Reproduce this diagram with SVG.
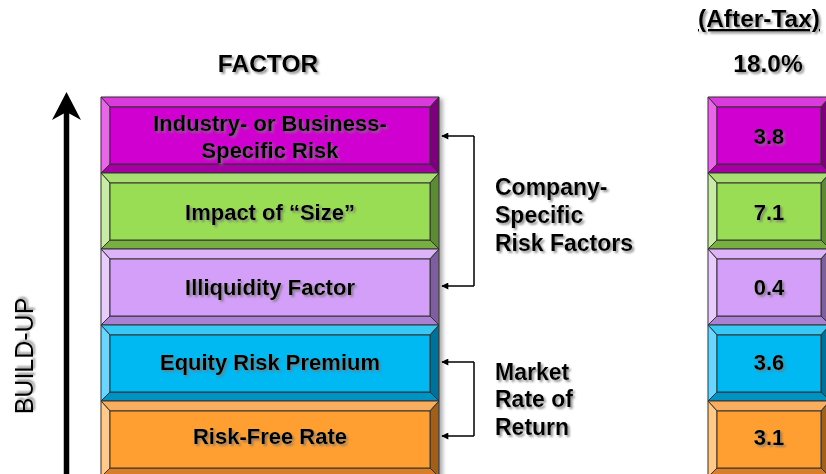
<svg xmlns="http://www.w3.org/2000/svg" width="826" height="474" viewBox="0 0 826 474">
  <defs>
    <filter id="txtShadow" x="-10%" y="-20%" width="130%" height="160%">
      <feDropShadow dx="2" dy="2" stdDeviation="1" flood-color="#777" flood-opacity="0.8"/>
    </filter>
    <filter id="boxShadow" x="-5%" y="-5%" width="115%" height="115%">
      <feDropShadow dx="3" dy="2" stdDeviation="2" flood-color="#000" flood-opacity="0.35"/>
    </filter>
    <marker id="tip" viewBox="0 0 10 10" refX="9" refY="5" markerWidth="8" markerHeight="7" markerUnits="userSpaceOnUse" orient="auto">
      <path d="M0,0 L10,5 L0,10 Z" fill="#000"/>
    </marker>
  </defs>
  <style>
    text { font-family: "Liberation Sans", Arial, sans-serif; fill: #000; }
    .lbl { font-size: 22px; font-weight: bold; text-anchor: middle; filter: url(#txtShadow); }
    .hdr { font-size: 24.5px; font-weight: bold; text-anchor: middle; filter: url(#txtShadow); }
    .side { font-size: 23px; font-weight: bold; filter: url(#txtShadow); }
    .bv polygon, .bv rect { stroke: #333; stroke-width: 1; stroke-linejoin: round; }
    .bracket { fill: none; stroke: #000; stroke-width: 1.5; }
    /* bevel palettes: face / top / left / right / bottom */
    .mag .f { fill: #D000D0; } .mag .t { fill: #DA3ADA; } .mag .l { fill: #E866E8; } .mag .r { fill: #7C007C; } .mag .b { fill: #A400A4; }
    .grn .f { fill: #99DD55; } .grn .t { fill: #A8DE72; } .grn .l { fill: #C8EBA5; } .grn .r { fill: #5B8A34; } .grn .b { fill: #78AE42; }
    .lil .f { fill: #D49FF8; } .lil .t { fill: #DDB3FA; } .lil .l { fill: #E8CCFC; } .lil .r { fill: #7E5E9E; } .lil .b { fill: #AA80D2; }
    .cya .f { fill: #00B8F2; } .cya .t { fill: #38C8F6; } .cya .l { fill: #6AD6FF; } .cya .r { fill: #00729A; } .cya .b { fill: #0092C2; }
    .org .f { fill: #FF9F33; } .org .t { fill: #F9AE5E; } .org .l { fill: #FFC98A; } .org .r { fill: #A0611F; } .org .b { fill: #D87E25; }
  </style>

  <rect width="826" height="474" fill="#ffffff"/>

  <!-- headings -->
  <text class="hdr" x="268" y="72">FACTOR</text>
  <text class="hdr" x="759" y="27" font-size="23" text-decoration="underline">(After-Tax)</text>
  <text class="hdr" x="768" y="72">18.0%</text>

  <!-- build-up axis -->
  <g id="buildup">
    <line x1="66.5" y1="474" x2="66.5" y2="112" stroke="#000" stroke-width="5.5"/>
    <polygon points="66.5,92 81,120 66.5,112 52,120" fill="#000"/>
    <text x="33" y="356" font-size="25" text-anchor="middle" transform="rotate(-90 33 356)" filter="url(#txtShadow)">BUILD-UP</text>
  </g>

  <!-- factor column: x 101..439, bevel top 10 / sides 9 / bottom 9 -->
  <g id="factor-column" filter="url(#boxShadow)">
    <g id="f-industry" class="bv mag">
      <polygon class="t" points="101,97 439,97 430,107 110,107"/>
      <polygon class="l" points="101,97 110,107 110,164 101,173"/>
      <polygon class="r" points="439,97 439,173 430,164 430,107"/>
      <polygon class="b" points="101,173 110,164 430,164 439,173"/>
      <rect class="f" x="110" y="107" width="320" height="57"/>
    </g>
    <g id="f-size" class="bv grn">
      <polygon class="t" points="101,173 439,173 430,183 110,183"/>
      <polygon class="l" points="101,173 110,183 110,240 101,249"/>
      <polygon class="r" points="439,173 439,249 430,240 430,183"/>
      <polygon class="b" points="101,249 110,240 430,240 439,249"/>
      <rect class="f" x="110" y="183" width="320" height="57"/>
    </g>
    <g id="f-illiquidity" class="bv lil">
      <polygon class="t" points="101,249 439,249 430,259 110,259"/>
      <polygon class="l" points="101,249 110,259 110,316 101,325"/>
      <polygon class="r" points="439,249 439,325 430,316 430,259"/>
      <polygon class="b" points="101,325 110,316 430,316 439,325"/>
      <rect class="f" x="110" y="259" width="320" height="57"/>
    </g>
    <g id="f-equity" class="bv cya">
      <polygon class="t" points="101,325 439,325 430,335 110,335"/>
      <polygon class="l" points="101,325 110,335 110,392 101,401"/>
      <polygon class="r" points="439,325 439,401 430,392 430,335"/>
      <polygon class="b" points="101,401 110,392 430,392 439,401"/>
      <rect class="f" x="110" y="335" width="320" height="57"/>
    </g>
    <g id="f-riskfree" class="bv org">
      <polygon class="t" points="101,401 439,401 430,411 110,411"/>
      <polygon class="l" points="101,401 110,411 110,468 101,477"/>
      <polygon class="r" points="439,401 439,477 430,468 430,411"/>
      <polygon class="b" points="101,477 110,468 430,468 439,477"/>
      <rect class="f" x="110" y="411" width="320" height="57"/>
    </g>
  </g>
  <g id="factor-labels">
    <text class="lbl" x="270" y="131">Industry- or Business-</text>
    <text class="lbl" x="270" y="158">Specific Risk</text>
    <text class="lbl" x="270" y="220">Impact of “Size”</text>
    <text class="lbl" x="270" y="295">Illiquidity Factor</text>
    <text class="lbl" x="270" y="370">Equity Risk Premium</text>
    <text class="lbl" x="270" y="444">Risk-Free Rate</text>
  </g>

  <!-- after-tax value column: x 708..830 -->
  <g id="value-column" filter="url(#boxShadow)">
    <g id="v-industry" class="bv mag">
      <polygon class="t" points="708,97 830,97 821,107 717,107"/>
      <polygon class="l" points="708,97 717,107 717,164 708,173"/>
      <polygon class="r" points="830,97 830,173 821,164 821,107"/>
      <polygon class="b" points="708,173 717,164 821,164 830,173"/>
      <rect class="f" x="717" y="107" width="104" height="57"/>
    </g>
    <g id="v-size" class="bv grn">
      <polygon class="t" points="708,173 830,173 821,183 717,183"/>
      <polygon class="l" points="708,173 717,183 717,240 708,249"/>
      <polygon class="r" points="830,173 830,249 821,240 821,183"/>
      <polygon class="b" points="708,249 717,240 821,240 830,249"/>
      <rect class="f" x="717" y="183" width="104" height="57"/>
    </g>
    <g id="v-illiquidity" class="bv lil">
      <polygon class="t" points="708,249 830,249 821,259 717,259"/>
      <polygon class="l" points="708,249 717,259 717,316 708,325"/>
      <polygon class="r" points="830,249 830,325 821,316 821,259"/>
      <polygon class="b" points="708,325 717,316 821,316 830,325"/>
      <rect class="f" x="717" y="259" width="104" height="57"/>
    </g>
    <g id="v-equity" class="bv cya">
      <polygon class="t" points="708,325 830,325 821,335 717,335"/>
      <polygon class="l" points="708,325 717,335 717,392 708,401"/>
      <polygon class="r" points="830,325 830,401 821,392 821,335"/>
      <polygon class="b" points="708,401 717,392 821,392 830,401"/>
      <rect class="f" x="717" y="335" width="104" height="57"/>
    </g>
    <g id="v-riskfree" class="bv org">
      <polygon class="t" points="708,401 830,401 821,411 717,411"/>
      <polygon class="l" points="708,401 717,411 717,468 708,477"/>
      <polygon class="r" points="830,401 830,477 821,468 821,411"/>
      <polygon class="b" points="708,477 717,468 821,468 830,477"/>
      <rect class="f" x="717" y="411" width="104" height="57"/>
    </g>
  </g>
  <g id="value-labels">
    <text class="lbl" x="769" y="144">3.8</text>
    <text class="lbl" x="769" y="220">7.1</text>
    <text class="lbl" x="769" y="295">0.4</text>
    <text class="lbl" x="769" y="370">3.6</text>
    <text class="lbl" x="769" y="445">3.1</text>
  </g>

  <!-- grouping brackets -->
  <g id="connectors">
    <path class="bracket" d="M474,136 V286" />
    <line class="bracket" x1="474" y1="136" x2="442" y2="136" marker-end="url(#tip)"/>
    <line class="bracket" x1="474" y1="286" x2="442" y2="286" marker-end="url(#tip)"/>
    <path class="bracket" d="M474,362 V436" />
    <line class="bracket" x1="474" y1="362" x2="442" y2="362" marker-end="url(#tip)"/>
    <line class="bracket" x1="474" y1="436" x2="442" y2="436" marker-end="url(#tip)"/>
  </g>

  <g id="company-specific">
    <text class="side" x="495" y="195">Company-</text>
    <text class="side" x="495" y="223">Specific</text>
    <text class="side" x="495" y="251">Risk Factors</text>
  </g>
  <g id="market-return">
    <text class="side" x="495" y="380">Market</text>
    <text class="side" x="495" y="407">Rate of</text>
    <text class="side" x="495" y="435">Return</text>
  </g>
</svg>
